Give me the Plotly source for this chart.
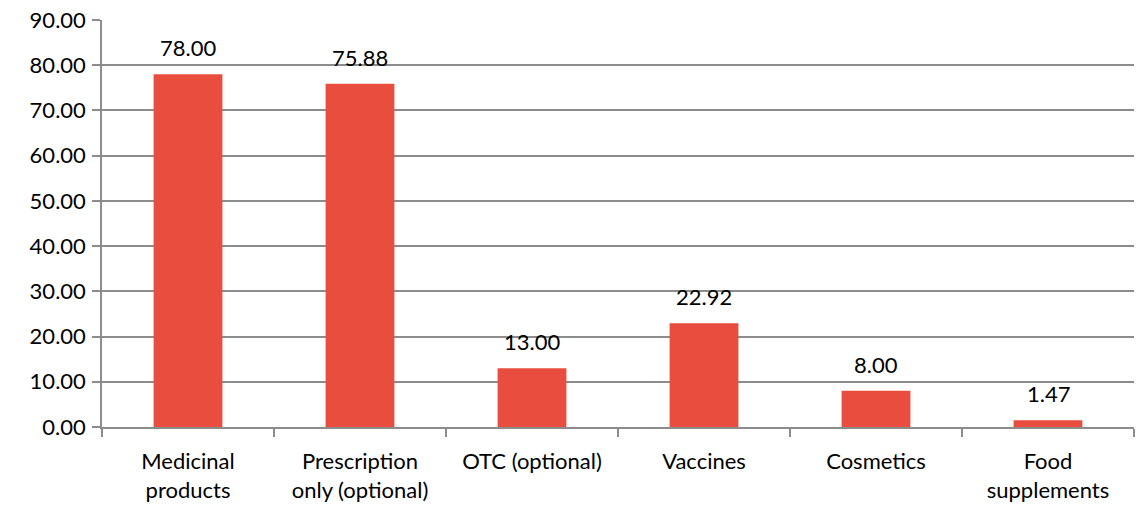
import plotly.graph_objects as go

categories = ["Medicinal<br>products", "Prescription<br>only (optional)", "OTC (optional)",
              "Vaccines", "Cosmetics", "Food<br>supplements"]
values = [78.00, 75.88, 13.00, 22.92, 8.00, 1.47]
y_ticks = [0, 10, 20, 30, 40, 50, 60, 70, 80, 90]

FONT = "Lato, Carlito, Calibri, sans-serif"
BAR = "#E84D3D"
GRID = "#8C8C8C"

fig = go.Figure(go.Bar(x=categories, y=values, marker=dict(color=BAR, line=dict(width=0)),
                       width=0.4, hoverinfo="x+y"))

for c, v in zip(categories, values):
    fig.add_annotation(x=c, y=v, text=f"{v:.2f}", showarrow=False, yanchor="bottom",
                       yshift=11, font=dict(family=FONT, size=22, color="#000"))

fig.update_layout(
    width=1138, height=506,
    margin=dict(l=102, r=4, t=20, b=79),
    plot_bgcolor="white", paper_bgcolor="white",
    showlegend=False,
    font=dict(family=FONT, size=22, color="#000"),
    bargap=0.6,
)
fig.update_yaxes(range=[0, 90], tickvals=y_ticks, ticktext=[f"{t:.2f}" for t in y_ticks],
                 showgrid=True, gridcolor=GRID, gridwidth=1.5, showline=True, linecolor=GRID,
                 linewidth=1.5, ticks="outside", ticklen=8, tickcolor=GRID, tickwidth=1.5,
                 zeroline=False, ticklabelstandoff=2, automargin=False)
fig.update_xaxes(showgrid=False, showline=True, linecolor=GRID, linewidth=1.5,
                 ticks="outside", tickson="boundaries", ticklen=8, tickcolor=GRID, tickwidth=1.5,
                 tickangle=0, ticklabelstandoff=14, automargin=False)

# remove the default 8px page margin so the figure fills the window exactly
fig.write_html("out.html", config={"displayModeBar": False},
               post_script="document.body.style.margin='0';document.body.style.overflow='hidden';")
